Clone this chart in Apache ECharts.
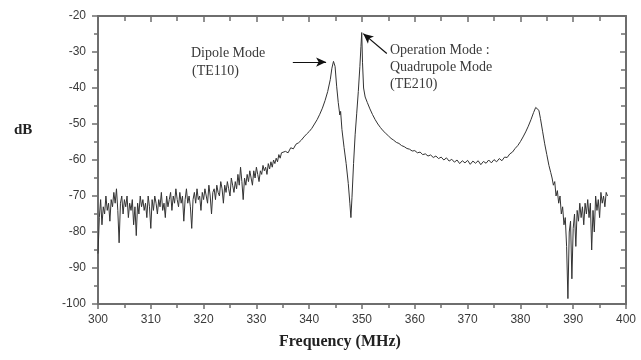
<!DOCTYPE html>
<html>
<head>
<meta charset="utf-8">
<script src="https://cdn.jsdelivr.net/npm/echarts@6/dist/echarts.min.js"></script>
<style>
  html, body { margin: 0; padding: 0; background: #fff; }
  #chart { width: 641px; height: 360px; }
</style>
</head>
<body>
<div id="chart"></div>
<script>
// axis ticks
const xTicks = [300, 310, 320, 330, 340, 350, 360, 370, 380, 390, 400];
const yTicks = [-100, -90, -80, -70, -60, -50, -40, -30, -20];

// noisy low band, 300 MHz upward in 0.25 MHz steps (dB)
const lowBandStart = 300;
const lowBandStep = 0.25;
const lowBandDb = [
  -86, -76, -71, -78, -73, -75, -70, -74, -72, -77, -71, -73, -69, -72, -68, -74,
  -83, -72, -70, -75, -71, -73, -70, -76, -72, -74, -71, -78, -73, -81, -72, -75,
  -70, -73, -71, -74, -72, -76, -70, -73, -79, -71, -74, -70, -72, -75, -71, -73,
  -69, -74, -72, -76, -70, -73, -71, -69, -74, -70, -72, -68, -71, -73, -69, -72,
  -70, -77, -71, -68, -72, -70, -73, -79, -71, -69, -72, -68, -71, -70, -74, -69,
  -71, -68, -70, -72, -67, -70, -75, -69, -68, -71, -67, -69, -70, -66, -68, -72,
  -67, -69, -66, -68, -70, -65, -67, -69, -66, -68, -64, -67, -62, -66, -71, -65,
  -67, -64, -66, -63, -65, -67, -63, -65, -62, -64, -66, -63, -64, -61.5, -63, -62,
  -64, -61, -62.5, -60.5, -62, -60, -61, -59.5, -60.5, -58.5, -59.5, -58, -58.5
];

// resonance region: [MHz, dB]
const resonanceBand = [
  [335.5, -57.6], [336, -58], [336.5, -56.6], [337, -56.9], [337.5, -55.6], [338, -55.2],
  [338.5, -54.5], [339, -53.6], [339.5, -52.8], [340, -52.1], [340.5, -51.2], [341, -50],
  [341.5, -48.8], [342, -47.3], [342.5, -45.6], [343, -43.5], [343.5, -41], [344, -37.6],
  [344.3, -34.5], [344.6, -32.6], [344.9, -34], [345.2, -39.5], [345.5, -44], [345.8, -47.5],
  [345.95, -46.5], [346.2, -51.5], [346.6, -56.5], [347, -61], [347.4, -66.5], [347.7, -72],
  [347.9, -76], [348.1, -70.5], [348.4, -61], [348.7, -53], [349, -47], [349.3, -41],
  [349.6, -34], [349.8, -28.5], [349.95, -24.6], [350.1, -33], [350.3, -40], [350.6, -42.5],
  [351, -44], [351.5, -45.8], [352, -47.4], [352.5, -48.8], [353, -50], [353.5, -51],
  [354, -51.9], [354.5, -52.6], [355, -53.3], [355.5, -54], [356, -54.5], [356.5, -55.1],
  [357, -55.4], [357.5, -56], [358, -56.3], [358.5, -56.8], [359, -57], [359.5, -57.5],
  [360, -57.4], [360.5, -58], [361, -57.8], [361.5, -58.5], [362, -58.3], [362.5, -58.9],
  [363, -58.6], [363.5, -59.3], [364, -58.9], [364.5, -59.6], [365, -59.2], [365.5, -60],
  [366, -59.4], [366.5, -60.3], [367, -59.8], [367.5, -60.6], [368, -60], [368.5, -61],
  [369, -60.2], [369.5, -60.8], [370, -60.1], [370.5, -61.2], [371, -60.3], [371.5, -60.9],
  [372, -60.2], [372.5, -61.3], [373, -60.4], [373.5, -60.9], [374, -60], [374.5, -60.8],
  [375, -59.9], [375.5, -60.5], [376, -59.6], [376.5, -60.2], [377, -59.2], [377.5, -59.3],
  [378, -58.3], [378.5, -57.8], [379, -56.8], [379.5, -56], [380, -54.9], [380.5, -53.6],
  [381, -52.2], [381.5, -50.6], [382, -48.8], [382.5, -46.8], [382.9, -45.4], [383.2, -45.1],
  [383.5, -46.2], [383.8, -48.5], [384.2, -52], [384.6, -55.5], [385, -58.5], [385.4, -61.5],
  [385.75, -63.5]
];

// noisy high band, 386 MHz upward in 0.25 MHz steps (dB)
const highBandStart = 386;
const highBandStep = 0.25;
const highBandDb = [
  -65, -67, -66, -70, -68.5, -72, -70, -75, -73, -78, -76, -84, -98.5, -80, -77, -93,
  -79, -75, -84, -74, -77, -72, -76, -73, -78, -72, -75, -71, -76, -72, -85, -74,
  -80, -70, -74, -71, -76, -69, -72, -70, -73, -69, -70
];

// annotation arrows [from, to] in MHz / dB
const dipoleArrow = [[336.9, -32.8], [343.2, -32.8]];
const quadArrow = [[354.7, -30.4], [350.25, -24.9]];

const trace = [];
lowBandDb.forEach((v, i) => trace.push([lowBandStart + i * lowBandStep, v]));
resonanceBand.forEach((p) => trace.push(p));
highBandDb.forEach((v, i) => trace.push([highBandStart + i * highBandStep, v]));

const axisGray = "#6e6e6e";
const textColor = "#3a3a3a";
const serif = "'Liberation Serif', 'DejaVu Serif', serif";
const sans = "'Liberation Sans', Arial, sans-serif";

const chart = echarts.init(document.getElementById("chart"));

function tick(inside, len) {
  return { show: true, inside: inside, length: len, lineStyle: { color: axisGray, width: 1.5 } };
}
function minor(len) {
  return { show: true, splitNumber: 2, length: len, lineStyle: { color: axisGray, width: 1.5 } };
}
// frame axes keep their (invisible) labels so ticks get drawn
const hiddenLabel = { show: true, color: "rgba(0,0,0,0)" };

const xRange = { type: "value", min: xTicks[0], max: xTicks[xTicks.length - 1], interval: 10 };
const yRange = { type: "value", min: yTicks[0], max: yTicks[yTicks.length - 1], interval: 10 };
const line = { show: true, onZero: false, lineStyle: { color: axisGray, width: 2 } };

chart.setOption({
  animation: false,
  backgroundColor: "#fff",
  grid: { left: 98, right: 15, top: 16, bottom: 56, outerBoundsMode: "none", containLabel: false },
  xAxis: [
    Object.assign({}, xRange, {
      position: "bottom",
      splitLine: { show: false },
      axisLine: line,
      axisTick: tick(false, 5),
      minorTick: minor(4),
      axisLabel: { color: textColor, fontFamily: sans, fontSize: 12, margin: 10 },
    }),
    Object.assign({}, xRange, {
      position: "top",
      splitLine: { show: false },
      axisLine: line,
      axisTick: tick(true, 6),
      minorTick: minor(5),
      axisLabel: hiddenLabel,
    }),
  ],
  yAxis: [
    Object.assign({}, yRange, {
      position: "left",
      splitLine: { show: false },
      axisLine: line,
      axisTick: tick(false, 6),
      minorTick: minor(4),
      axisLabel: { color: textColor, fontFamily: sans, fontSize: 12, margin: 12 },
    }),
    Object.assign({}, yRange, {
      position: "right",
      splitLine: { show: false },
      axisLine: line,
      axisTick: tick(true, 6),
      minorTick: minor(5),
      axisLabel: hiddenLabel,
    }),
  ],
  series: [
    {
      type: "line",
      data: trace,
      xAxisIndex: 0,
      yAxisIndex: 0,
      showSymbol: false,
      lineStyle: { color: "#333", width: 1 },
      markLine: {
        silent: true,
        symbol: ["none", "arrow"],
        symbolSize: [7, 10],
        label: { show: false },
        lineStyle: { color: "#111", width: 1.2, type: "solid" },
        data: [
          [{ coord: dipoleArrow[0] }, { coord: dipoleArrow[1] }],
          [{ coord: quadArrow[0] }, { coord: quadArrow[1] }],
        ],
      },
    },
    {
      // binds the frame axes
      type: "line",
      data: [],
      xAxisIndex: 1,
      yAxisIndex: 1,
      showSymbol: false,
    },
  ],
  graphic: [
    { type: "text", left: 14, top: 123, style: { text: "dB", font: "bold 15px " + serif, fill: "#222" } },
    { type: "text", left: 279, top: 334, style: { text: "Frequency (MHz)", font: "bold 16px " + serif, fill: "#222" } },
    { type: "text", left: 191, top: 46, style: { text: "Dipole Mode", font: "14px " + serif, fill: textColor } },
    { type: "text", left: 192, top: 64, style: { text: "(TE110)", font: "14px " + serif, fill: textColor } },
    { type: "text", left: 390, top: 43, style: { text: "Operation Mode :", font: "14px " + serif, fill: textColor } },
    { type: "text", left: 390, top: 60, style: { text: "Quadrupole Mode", font: "14px " + serif, fill: textColor } },
    { type: "text", left: 390, top: 77, style: { text: "(TE210)", font: "14px " + serif, fill: textColor } },
  ],
});
</script>
</body>
</html>
